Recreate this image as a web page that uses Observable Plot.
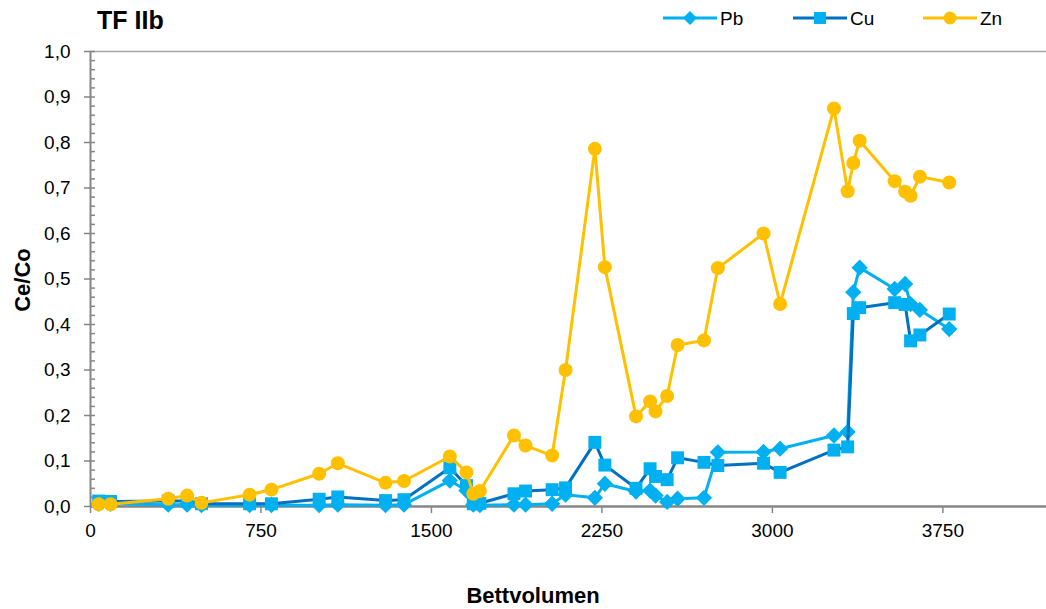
<!DOCTYPE html>
<html><head><meta charset="utf-8">
<script src="https://cdn.jsdelivr.net/npm/d3@7"></script>
<script src="https://cdn.jsdelivr.net/npm/@observablehq/plot@0.6"></script>
<style>
body{margin:0;background:#fff;font-family:"Liberation Sans",Arial,sans-serif}
#wrap{position:relative;width:1046px;height:609px;overflow:hidden;background:#fff}
#chart{position:absolute;left:0;top:0}
.t{position:absolute;white-space:nowrap;color:#000;line-height:1}
#legend{position:absolute;left:0;top:0}
.li{position:absolute;display:flex;align-items:center;font-size:19px;line-height:1}
</style></head><body>
<div id="wrap">
<div id="chart"></div>
<div class="t" style="left:97px;top:8px;font-weight:bold;font-size:25px">TF IIb</div>
<div id="legend"></div>
<div class="t" style="left:533px;top:596px;transform:translate(-50%,-50%);font-weight:bold;font-size:22px">Bettvolumen</div>
<div class="t" style="left:23px;top:280px;transform:translate(-50%,-50%) rotate(-90deg);font-weight:bold;font-size:22px">Ce/Co</div>
</div>
<script>
// Data (Bettvolumen vs Ce/Co)
const bv = [36, 88, 342, 425, 488, 700, 796, 1006, 1088, 1298, 1379, 1581, 1654, 1684, 1713, 1863, 1914, 2031, 2090, 2219, 2263, 2400, 2462, 2486, 2537, 2583, 2699, 2760, 2961, 3034, 3271, 3331, 3356, 3384, 3538, 3584, 3608, 3649, 3778];
const pb = [0.006,0.006,0.004,0.004,0.003,0.003,0.003,0.003,0.004,0.003, 0.004,0.057,0.035,0.004,0.003,0.004,0.004,0.006,0.026,0.019, 0.050,0.033,0.035,0.024,0.010,0.017,0.019,0.119,0.120,0.127, 0.156,0.164,0.471,0.525,0.478,0.489,0.445,0.432,0.390];
const cu = [0.012,0.011,0.012,0.012,0.006,0.006,0.006,0.016,0.021,0.013, 0.015,0.085,0.046,0.006,0.007,0.028,0.034,0.037,0.041,0.141, 0.091,0.040,0.083,0.066,0.059,0.107,0.097,0.090,0.095,0.075, 0.124,0.131,0.424,0.437,0.448,0.444,0.364,0.377,0.423];
const zn = [0.005,0.005,0.017,0.024,0.008,0.026,0.037,0.072,0.095,0.052, 0.056,0.110,0.075,0.028,0.034,0.156,0.134,0.112,0.300,0.786, 0.526,0.198,0.231,0.209,0.243,0.355,0.365,0.524,0.600,0.445, 0.875,0.693,0.755,0.804,0.715,0.692,0.683,0.725,0.712];
const seriesNames = ["Pb", "Cu", "Zn"];
const xTicks = [0, 750, 1500, 2250, 3000, 3750];
const yTicks = [0, 0.1, 0.2, 0.3, 0.4, 0.5, 0.6, 0.7, 0.8, 0.9, 1.0];
const yMinor = d3.range(0, 51).map(i => i / 50);

const cLight = "#00B0F0", cDark = "#0070C0", cZn = "#FFC000", cAxis = "#868686";

const diamond = {draw(ctx, size){ const h = Math.sqrt(size/2); ctx.moveTo(0,-h); ctx.lineTo(h,0); ctx.lineTo(0,h); ctx.lineTo(-h,0); ctx.closePath(); }};
const square = {draw(ctx, size){ const s = Math.sqrt(size)/2; ctx.rect(-s,-s,2*s,2*s); }};

const rows = s => bv.map((x, i) => ({x, y: s[i]}));
const fmt = d => d.toFixed(1).replace(".", ",");

const chart = Plot.plot({
  width: 1046, height: 609,
  marginLeft: 90, marginRight: 0, marginTop: 51, marginBottom: 103,
  x: {domain: [0, 4206]},
  y: {domain: [0, 1]},
  style: {fontFamily: "'Liberation Sans', Arial, sans-serif", fontSize: "19px", color: "#000", background: "transparent", overflow: "visible"},
  marks: [
    Plot.ruleY([1], {stroke: "#a6a6a6", strokeWidth: 1.5}),
    Plot.axisY({ticks: yMinor, tickSize: -5, tickFormat: () => "", stroke: cAxis, strokeWidth: 1.5, label: null}),
    Plot.axisY({ticks: yTicks, tickSize: 6, tickPadding: 14, tickFormat: fmt, stroke: cAxis, strokeWidth: 1.5, label: null}),
    Plot.axisX({ticks: xTicks, tickSize: 7, tickPadding: 10, tickFormat: d => String(d), stroke: cAxis, strokeWidth: 1.5, label: null}),
    Plot.ruleX([0], {stroke: cAxis, strokeWidth: 2}),
    Plot.ruleY([0], {stroke: cAxis, strokeWidth: 2.5}),
    Plot.line(rows(pb), {x: "x", y: "y", stroke: cLight, strokeWidth: 3}),
    Plot.dot(rows(pb), {x: "x", y: "y", symbol: diamond, r: 6.5, fill: cLight, stroke: "none"}),
    Plot.line(rows(cu), {x: "x", y: "y", stroke: cDark, strokeWidth: 3}),
    Plot.dot(rows(cu), {x: "x", y: "y", symbol: square, r: 7.3, fill: cLight, stroke: "none"}),
    Plot.line(rows(zn), {x: "x", y: "y", stroke: cZn, strokeWidth: 3}),
    Plot.dot(rows(zn), {x: "x", y: "y", symbol: "circle", r: 7, fill: cZn, stroke: "none"})
  ]
});
document.getElementById("chart").appendChild(chart);

// Legend
const legendItems = [
  {name: seriesNames[0], line: cLight, fill: cLight, shape: "diamond", left: 663},
  {name: seriesNames[1], line: cDark, fill: cLight, shape: "square", left: 793},
  {name: seriesNames[2], line: cZn, fill: cZn, shape: "circle", left: 923}
];
const lg = document.getElementById("legend");
for (const it of legendItems) {
  const d = document.createElement("div");
  d.className = "li";
  d.style.left = it.left + "px";
  d.style.top = "1px";
  let m;
  if (it.shape === "diamond") m = `<path d="M27,10 L34,17 L27,24 L20,17 Z" fill="${it.fill}"/>`;
  else if (it.shape === "square") m = `<rect x="21" y="11" width="12" height="12" fill="${it.fill}"/>`;
  else m = `<circle cx="27" cy="17" r="6.5" fill="${it.fill}"/>`;
  d.innerHTML = `<svg width="54" height="34" style="display:block"><line x1="0" y1="17" x2="54" y2="17" stroke="${it.line}" stroke-width="3"/>${m}</svg><span style="margin-left:3px">${it.name}</span>`;
  lg.appendChild(d);
}
</script>
</body></html>
